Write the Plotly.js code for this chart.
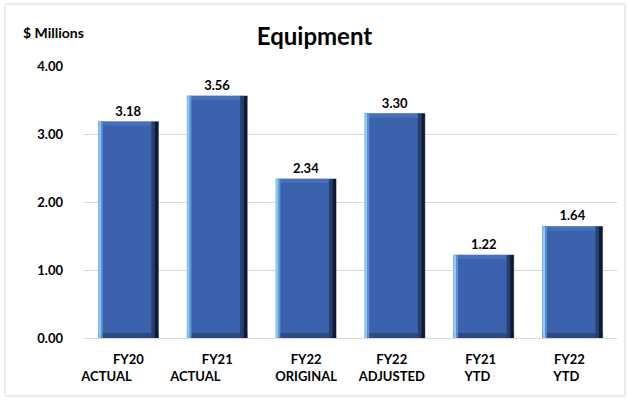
<!DOCTYPE html>
<html>
<head>
<meta charset="utf-8">
<script src="https://cdn.plot.ly/plotly-3.0.1.min.js"></script>
<style>html,body{margin:0;padding:0;background:#fff;}#chart{width:629px;height:400px;}</style>
</head>
<body>
<div id="chart"></div>
<script>
var categories = ["FY20 ACTUAL", "FY21 ACTUAL", "FY22 ORIGINAL", "FY22 ADJUSTED", "FY21 YTD", "FY22 YTD"];
var NB = "\u00a0";
function pad(n){ return new Array(n + 1).join(NB); }
var tickLabels = [
  "FY20<br>ACTUAL" + pad(14),
  "FY21<br>ACTUAL" + pad(14),
  "FY22<br>ORIGINAL",
  "FY22" + pad(2) + "<br>ADJUSTED" + pad(2),
  "FY21" + pad(2) + "<br>YTD" + pad(4),
  "FY22" + pad(2) + "<br>YTD" + pad(4)
];
var values = [3.18, 3.56, 2.34, 3.30, 1.22, 1.64];

var FONT = "Lato, Roboto, sans-serif";
var BW = 0.675;

function strip(color, width, offset) {
  return {type: "bar", x: categories, y: values, width: width, offset: offset,
          marker: {color: color, line: {width: 0}}, hoverinfo: "skip"};
}
function band(color, frac, fromTop) {
  // thin horizontal bevel bands derived from the bar values
  return {type: "bar", x: categories,
          y: values.map(function(){ return frac; }),
          base: values.map(function(v){ return fromTop ? v - frac : 0; }),
          width: BW, offset: -BW / 2,
          marker: {color: color, line: {width: 0}}, hoverinfo: "skip"};
}

var main = {
  type: "bar", x: categories, y: values, width: BW,
  marker: {color: "#3b62ad", line: {color: "#8f9fc0", width: 1}},
  text: values.map(function(v){ return v.toFixed(2); }),
  textposition: "outside", cliponaxis: false,
  textfont: {family: FONT, size: 13, color: "#000", weight: "bold"},
  hoverinfo: "x+y"
};

var traces = [
  main,
  band("#4670bd", 0.06, true),
  band("#2c4b86", 0.075, false),
  strip("#8ecbf5", 0.028, -BW / 2),
  strip("#5b93d6", 0.02, -BW / 2 + 0.028),
  strip("#263f70", 0.04, BW / 2 - 0.08),
  strip("#0f1b33", 0.04, BW / 2 - 0.04)
];

var layout = {
  width: 629, height: 400,
  margin: {l: 84, r: 12, t: 66, b: 62},
  paper_bgcolor: "#fff", plot_bgcolor: "#fff",
  barmode: "overlay", showlegend: false,
  font: {family: FONT, color: "#000"},
  title: {text: "<b>Equipment</b>", x: 0.5, xanchor: "center", xref: "container",
          y: 0.9075, yanchor: "middle",
          font: {family: FONT, size: 24, color: "#000"}},
  xaxis: {
    tickmode: "array", tickvals: categories, ticktext: tickLabels,
    tickfont: {family: FONT, size: 13, color: "#000", weight: "bold"},
    tickangle: 0, automargin: false,
    showgrid: false, zeroline: false, showline: false, ticks: "",
    ticklabelstandoff: 12, fixedrange: true
  },
  yaxis: {
    range: [0, 4], dtick: 1, tickformat: ".2f", automargin: false,
    tickfont: {family: FONT, size: 13, color: "#000", weight: "bold"},
    gridcolor: "#d9d9d9", gridwidth: 1, zeroline: true, zerolinecolor: "#d9d9d9",
    showline: false, ticks: "", ticklabelstandoff: 20, fixedrange: true
  },
  annotations: [{
    text: "<b>$ Millions</b>", xref: "paper", yref: "paper", x: -0.118, y: 1.125,
    xanchor: "left", yanchor: "middle", showarrow: false,
    font: {family: FONT, size: 14, color: "#000"}
  }],
  shapes: [{
    type: "rect", xref: "paper", yref: "paper",
    x0: -0.148, x1: 1.015, y0: -0.213, y1: 1.228,
    line: {color: "#d9d9d9", width: 1}, fillcolor: "rgba(0,0,0,0)", layer: "below"
  }]
};

Plotly.newPlot("chart", traces, layout, {displayModeBar: false, staticPlot: true});
</script>
</body>
</html>
